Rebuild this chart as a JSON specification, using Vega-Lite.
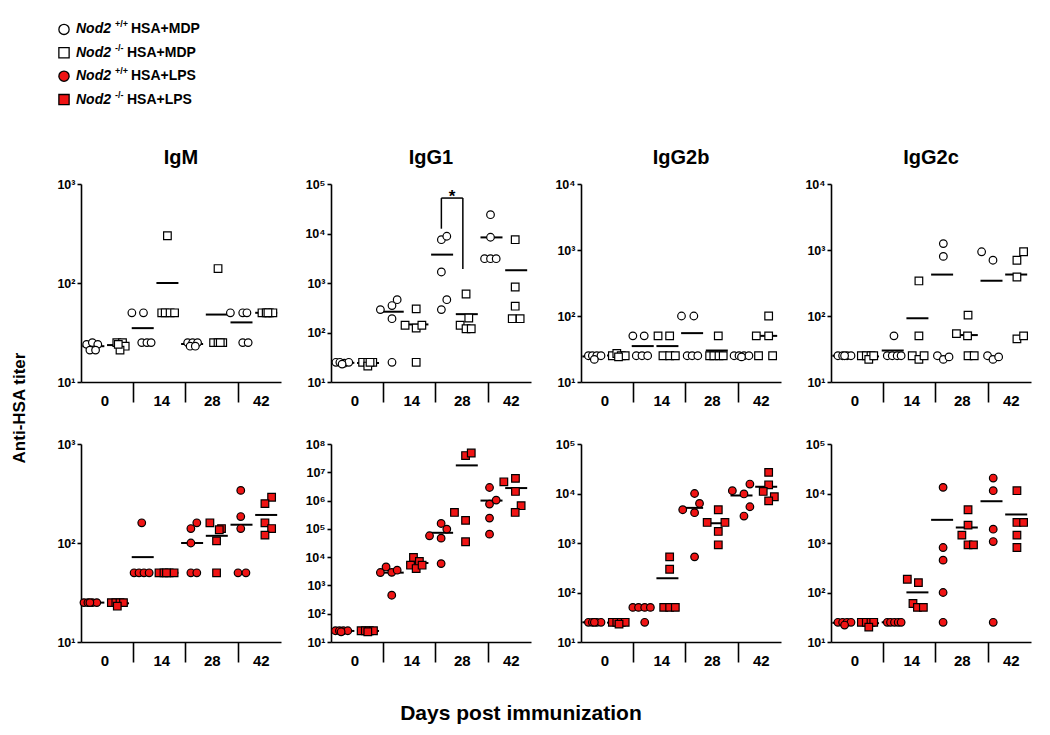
{
"$schema":"https://vega.github.io/schema/vega-lite/v6.json",
"background":"white",
"padding":{"left":10,"top":6,"right":5,"bottom":5},
"config":{
 "view":{"stroke":null},
 "font":"Liberation Sans",
 "axis":{"domainColor":"black","domainWidth":1.6,"tickColor":"black","tickWidth":1.6,"labelColor":"black","labelFont":"Liberation Sans","labelFontWeight":"bold","grid":false},
 "axisX":{"tickSize":20,"labelFontSize":15,"labelPadding":-9,"labelOverlap":false,"labelFlush":false,"labelBound":false},
 "axisY":{"tickSize":4,"labelFontSize":12.5,"labelPadding":2,"labelOverlap":false},
 "title":{"font":"Liberation Sans","fontSize":20,"fontWeight":"bold","color":"black","offset":10}
},
"datasets":{
 "pts":[
{"p":"IgM","r":"MDP","d":0,"g":"+/+","s":0,"x":-0.27,"v":24},{"p":"IgM","r":"MDP","d":0,"g":"+/+","s":0,"x":-0.04,"v":25},{"p":"IgM","r":"MDP","d":0,"g":"+/+","s":0,"x":0.18,"v":24},{"p":"IgM","r":"MDP","d":0,"g":"+/+","s":0,"x":-0.14,"v":21},{"p":"IgM","r":"MDP","d":0,"g":"+/+","s":0,"x":0.09,"v":21},
{"p":"IgM","r":"MDP","d":0,"g":"-/-","s":1,"x":0.95,"v":25},{"p":"IgM","r":"MDP","d":0,"g":"-/-","s":1,"x":1.18,"v":25},{"p":"IgM","r":"MDP","d":0,"g":"-/-","s":1,"x":1.29,"v":23},{"p":"IgM","r":"MDP","d":0,"g":"-/-","s":1,"x":1.08,"v":21},{"p":"IgM","r":"MDP","d":0,"g":"-/-","s":1,"x":1.01,"v":24},
{"p":"IgM","r":"MDP","d":14,"g":"+/+","s":2,"x":1.56,"v":50},{"p":"IgM","r":"MDP","d":14,"g":"+/+","s":2,"x":2.03,"v":50},{"p":"IgM","r":"MDP","d":14,"g":"+/+","s":2,"x":1.96,"v":25},{"p":"IgM","r":"MDP","d":14,"g":"+/+","s":2,"x":2.17,"v":25},{"p":"IgM","r":"MDP","d":14,"g":"+/+","s":2,"x":2.34,"v":25},
{"p":"IgM","r":"MDP","d":14,"g":"-/-","s":3,"x":3.0,"v":300},{"p":"IgM","r":"MDP","d":14,"g":"-/-","s":3,"x":2.77,"v":50},{"p":"IgM","r":"MDP","d":14,"g":"-/-","s":3,"x":2.91,"v":50},{"p":"IgM","r":"MDP","d":14,"g":"-/-","s":3,"x":3.11,"v":50},{"p":"IgM","r":"MDP","d":14,"g":"-/-","s":3,"x":3.29,"v":50},
{"p":"IgM","r":"MDP","d":28,"g":"+/+","s":4,"x":3.82,"v":25},{"p":"IgM","r":"MDP","d":28,"g":"+/+","s":4,"x":4.02,"v":25},{"p":"IgM","r":"MDP","d":28,"g":"+/+","s":4,"x":4.22,"v":25},{"p":"IgM","r":"MDP","d":28,"g":"+/+","s":4,"x":3.92,"v":23},{"p":"IgM","r":"MDP","d":28,"g":"+/+","s":4,"x":4.13,"v":23},
{"p":"IgM","r":"MDP","d":28,"g":"-/-","s":5,"x":5.05,"v":140},{"p":"IgM","r":"MDP","d":28,"g":"-/-","s":5,"x":4.87,"v":25},{"p":"IgM","r":"MDP","d":28,"g":"-/-","s":5,"x":5.05,"v":25},{"p":"IgM","r":"MDP","d":28,"g":"-/-","s":5,"x":5.24,"v":25},{"p":"IgM","r":"MDP","d":28,"g":"-/-","s":5,"x":5.14,"v":25},
{"p":"IgM","r":"MDP","d":42,"g":"+/+","s":6,"x":5.55,"v":50},{"p":"IgM","r":"MDP","d":42,"g":"+/+","s":6,"x":6.05,"v":50},{"p":"IgM","r":"MDP","d":42,"g":"+/+","s":6,"x":6.22,"v":50},{"p":"IgM","r":"MDP","d":42,"g":"+/+","s":6,"x":6.05,"v":25},{"p":"IgM","r":"MDP","d":42,"g":"+/+","s":6,"x":6.27,"v":25},
{"p":"IgM","r":"MDP","d":42,"g":"-/-","s":7,"x":6.83,"v":50},{"p":"IgM","r":"MDP","d":42,"g":"-/-","s":7,"x":7.0,"v":50},{"p":"IgM","r":"MDP","d":42,"g":"-/-","s":7,"x":7.13,"v":50},{"p":"IgM","r":"MDP","d":42,"g":"-/-","s":7,"x":7.27,"v":50},{"p":"IgM","r":"MDP","d":42,"g":"-/-","s":7,"x":7.07,"v":50},

{"p":"IgG1","r":"MDP","d":0,"g":"+/+","s":0,"x":-0.3,"v":25},{"p":"IgG1","r":"MDP","d":0,"g":"+/+","s":0,"x":-0.14,"v":25},{"p":"IgG1","r":"MDP","d":0,"g":"+/+","s":0,"x":0.04,"v":24},{"p":"IgG1","r":"MDP","d":0,"g":"+/+","s":0,"x":0.22,"v":25},{"p":"IgG1","r":"MDP","d":0,"g":"+/+","s":0,"x":-0.05,"v":23},
{"p":"IgG1","r":"MDP","d":0,"g":"-/-","s":1,"x":0.78,"v":25},{"p":"IgG1","r":"MDP","d":0,"g":"-/-","s":1,"x":0.99,"v":25},{"p":"IgG1","r":"MDP","d":0,"g":"-/-","s":1,"x":1.19,"v":25},{"p":"IgG1","r":"MDP","d":0,"g":"-/-","s":1,"x":0.99,"v":21},{"p":"IgG1","r":"MDP","d":0,"g":"-/-","s":1,"x":1.08,"v":25},
{"p":"IgG1","r":"MDP","d":14,"g":"+/+","s":2,"x":1.5,"v":290},{"p":"IgG1","r":"MDP","d":14,"g":"+/+","s":2,"x":1.97,"v":350},{"p":"IgG1","r":"MDP","d":14,"g":"+/+","s":2,"x":2.18,"v":460},{"p":"IgG1","r":"MDP","d":14,"g":"+/+","s":2,"x":1.97,"v":190},{"p":"IgG1","r":"MDP","d":14,"g":"+/+","s":2,"x":1.97,"v":25},
{"p":"IgG1","r":"MDP","d":14,"g":"-/-","s":3,"x":2.95,"v":300},{"p":"IgG1","r":"MDP","d":14,"g":"-/-","s":3,"x":2.5,"v":140},{"p":"IgG1","r":"MDP","d":14,"g":"-/-","s":3,"x":2.95,"v":123},{"p":"IgG1","r":"MDP","d":14,"g":"-/-","s":3,"x":3.18,"v":140},{"p":"IgG1","r":"MDP","d":14,"g":"-/-","s":3,"x":2.95,"v":25},
{"p":"IgG1","r":"MDP","d":28,"g":"+/+","s":4,"x":3.97,"v":7500},{"p":"IgG1","r":"MDP","d":28,"g":"+/+","s":4,"x":4.19,"v":8800},{"p":"IgG1","r":"MDP","d":28,"g":"+/+","s":4,"x":3.97,"v":1670},{"p":"IgG1","r":"MDP","d":28,"g":"+/+","s":4,"x":4.19,"v":460},{"p":"IgG1","r":"MDP","d":28,"g":"+/+","s":4,"x":3.97,"v":290},
{"p":"IgG1","r":"MDP","d":28,"g":"-/-","s":5,"x":4.97,"v":600},{"p":"IgG1","r":"MDP","d":28,"g":"-/-","s":5,"x":5.08,"v":196},{"p":"IgG1","r":"MDP","d":28,"g":"-/-","s":5,"x":4.73,"v":140},{"p":"IgG1","r":"MDP","d":28,"g":"-/-","s":5,"x":4.97,"v":119},{"p":"IgG1","r":"MDP","d":28,"g":"-/-","s":5,"x":5.18,"v":119},
{"p":"IgG1","r":"MDP","d":42,"g":"+/+","s":6,"x":5.96,"v":24000},{"p":"IgG1","r":"MDP","d":42,"g":"+/+","s":6,"x":5.96,"v":8400},{"p":"IgG1","r":"MDP","d":42,"g":"+/+","s":6,"x":5.72,"v":3100},{"p":"IgG1","r":"MDP","d":42,"g":"+/+","s":6,"x":5.96,"v":3100},{"p":"IgG1","r":"MDP","d":42,"g":"+/+","s":6,"x":6.19,"v":3100},
{"p":"IgG1","r":"MDP","d":42,"g":"-/-","s":7,"x":6.96,"v":7500},{"p":"IgG1","r":"MDP","d":42,"g":"-/-","s":7,"x":6.96,"v":830},{"p":"IgG1","r":"MDP","d":42,"g":"-/-","s":7,"x":6.96,"v":340},{"p":"IgG1","r":"MDP","d":42,"g":"-/-","s":7,"x":6.84,"v":190},{"p":"IgG1","r":"MDP","d":42,"g":"-/-","s":7,"x":7.16,"v":190},

{"p":"IgG2b","r":"MDP","d":0,"g":"+/+","s":0,"x":-0.2,"v":25},{"p":"IgG2b","r":"MDP","d":0,"g":"+/+","s":0,"x":-0.04,"v":25},{"p":"IgG2b","r":"MDP","d":0,"g":"+/+","s":0,"x":0.14,"v":25},{"p":"IgG2b","r":"MDP","d":0,"g":"+/+","s":0,"x":0.31,"v":25},{"p":"IgG2b","r":"MDP","d":0,"g":"+/+","s":0,"x":0.04,"v":22},
{"p":"IgG2b","r":"MDP","d":0,"g":"-/-","s":1,"x":0.77,"v":25},{"p":"IgG2b","r":"MDP","d":0,"g":"-/-","s":1,"x":0.95,"v":27},{"p":"IgG2b","r":"MDP","d":0,"g":"-/-","s":1,"x":1.13,"v":25},{"p":"IgG2b","r":"MDP","d":0,"g":"-/-","s":1,"x":1.29,"v":25},{"p":"IgG2b","r":"MDP","d":0,"g":"-/-","s":1,"x":1.02,"v":24},
{"p":"IgG2b","r":"MDP","d":14,"g":"+/+","s":2,"x":1.6,"v":50},{"p":"IgG2b","r":"MDP","d":14,"g":"+/+","s":2,"x":2.06,"v":50},{"p":"IgG2b","r":"MDP","d":14,"g":"+/+","s":2,"x":1.74,"v":25},{"p":"IgG2b","r":"MDP","d":14,"g":"+/+","s":2,"x":1.97,"v":25},{"p":"IgG2b","r":"MDP","d":14,"g":"+/+","s":2,"x":2.2,"v":25},
{"p":"IgG2b","r":"MDP","d":14,"g":"-/-","s":3,"x":2.62,"v":50},{"p":"IgG2b","r":"MDP","d":14,"g":"-/-","s":3,"x":3.09,"v":50},{"p":"IgG2b","r":"MDP","d":14,"g":"-/-","s":3,"x":2.82,"v":25},{"p":"IgG2b","r":"MDP","d":14,"g":"-/-","s":3,"x":3.09,"v":25},{"p":"IgG2b","r":"MDP","d":14,"g":"-/-","s":3,"x":3.32,"v":25},
{"p":"IgG2b","r":"MDP","d":28,"g":"+/+","s":4,"x":3.57,"v":100},{"p":"IgG2b","r":"MDP","d":28,"g":"+/+","s":4,"x":4.07,"v":100},{"p":"IgG2b","r":"MDP","d":28,"g":"+/+","s":4,"x":3.8,"v":25},{"p":"IgG2b","r":"MDP","d":28,"g":"+/+","s":4,"x":4.0,"v":25},{"p":"IgG2b","r":"MDP","d":28,"g":"+/+","s":4,"x":4.23,"v":25},
{"p":"IgG2b","r":"MDP","d":28,"g":"-/-","s":5,"x":5.06,"v":50},{"p":"IgG2b","r":"MDP","d":28,"g":"-/-","s":5,"x":4.71,"v":25},{"p":"IgG2b","r":"MDP","d":28,"g":"-/-","s":5,"x":4.88,"v":25},{"p":"IgG2b","r":"MDP","d":28,"g":"-/-","s":5,"x":5.09,"v":25},{"p":"IgG2b","r":"MDP","d":28,"g":"-/-","s":5,"x":5.26,"v":25},
{"p":"IgG2b","r":"MDP","d":42,"g":"+/+","s":6,"x":5.7,"v":25},{"p":"IgG2b","r":"MDP","d":42,"g":"+/+","s":6,"x":5.9,"v":25},{"p":"IgG2b","r":"MDP","d":42,"g":"+/+","s":6,"x":6.1,"v":25},{"p":"IgG2b","r":"MDP","d":42,"g":"+/+","s":6,"x":6.3,"v":25},{"p":"IgG2b","r":"MDP","d":42,"g":"+/+","s":6,"x":6.0,"v":24},
{"p":"IgG2b","r":"MDP","d":42,"g":"-/-","s":7,"x":7.1,"v":100},{"p":"IgG2b","r":"MDP","d":42,"g":"-/-","s":7,"x":6.6,"v":50},{"p":"IgG2b","r":"MDP","d":42,"g":"-/-","s":7,"x":7.1,"v":50},{"p":"IgG2b","r":"MDP","d":42,"g":"-/-","s":7,"x":6.69,"v":25},{"p":"IgG2b","r":"MDP","d":42,"g":"-/-","s":7,"x":7.26,"v":25},

{"p":"IgG2c","r":"MDP","d":0,"g":"+/+","s":0,"x":-0.22,"v":25},{"p":"IgG2c","r":"MDP","d":0,"g":"+/+","s":0,"x":-0.03,"v":25},{"p":"IgG2c","r":"MDP","d":0,"g":"+/+","s":0,"x":0.15,"v":25},{"p":"IgG2c","r":"MDP","d":0,"g":"+/+","s":0,"x":0.31,"v":25},{"p":"IgG2c","r":"MDP","d":0,"g":"+/+","s":0,"x":0.05,"v":25},
{"p":"IgG2c","r":"MDP","d":0,"g":"-/-","s":1,"x":0.73,"v":25},{"p":"IgG2c","r":"MDP","d":0,"g":"-/-","s":1,"x":0.93,"v":25},{"p":"IgG2c","r":"MDP","d":0,"g":"-/-","s":1,"x":1.12,"v":25},{"p":"IgG2c","r":"MDP","d":0,"g":"-/-","s":1,"x":1.03,"v":22},{"p":"IgG2c","r":"MDP","d":0,"g":"-/-","s":1,"x":1.23,"v":25},
{"p":"IgG2c","r":"MDP","d":14,"g":"+/+","s":2,"x":2.05,"v":50},{"p":"IgG2c","r":"MDP","d":14,"g":"+/+","s":2,"x":1.78,"v":25},{"p":"IgG2c","r":"MDP","d":14,"g":"+/+","s":2,"x":1.98,"v":25},{"p":"IgG2c","r":"MDP","d":14,"g":"+/+","s":2,"x":2.18,"v":25},{"p":"IgG2c","r":"MDP","d":14,"g":"+/+","s":2,"x":2.34,"v":25},
{"p":"IgG2c","r":"MDP","d":14,"g":"-/-","s":3,"x":3.06,"v":340},{"p":"IgG2c","r":"MDP","d":14,"g":"-/-","s":3,"x":3.06,"v":50},{"p":"IgG2c","r":"MDP","d":14,"g":"-/-","s":3,"x":2.79,"v":25},{"p":"IgG2c","r":"MDP","d":14,"g":"-/-","s":3,"x":3.06,"v":22},{"p":"IgG2c","r":"MDP","d":14,"g":"-/-","s":3,"x":3.27,"v":25},
{"p":"IgG2c","r":"MDP","d":28,"g":"+/+","s":4,"x":4.05,"v":1250},{"p":"IgG2c","r":"MDP","d":28,"g":"+/+","s":4,"x":4.05,"v":800},{"p":"IgG2c","r":"MDP","d":28,"g":"+/+","s":4,"x":3.81,"v":25},{"p":"IgG2c","r":"MDP","d":28,"g":"+/+","s":4,"x":4.05,"v":22},{"p":"IgG2c","r":"MDP","d":28,"g":"+/+","s":4,"x":4.28,"v":24},
{"p":"IgG2c","r":"MDP","d":28,"g":"-/-","s":5,"x":5.05,"v":103},{"p":"IgG2c","r":"MDP","d":28,"g":"-/-","s":5,"x":4.58,"v":54},{"p":"IgG2c","r":"MDP","d":28,"g":"-/-","s":5,"x":5.03,"v":50},{"p":"IgG2c","r":"MDP","d":28,"g":"-/-","s":5,"x":5.05,"v":25},{"p":"IgG2c","r":"MDP","d":28,"g":"-/-","s":5,"x":5.3,"v":25},
{"p":"IgG2c","r":"MDP","d":42,"g":"+/+","s":6,"x":5.6,"v":940},{"p":"IgG2c","r":"MDP","d":42,"g":"+/+","s":6,"x":6.06,"v":700},{"p":"IgG2c","r":"MDP","d":42,"g":"+/+","s":6,"x":5.84,"v":25},{"p":"IgG2c","r":"MDP","d":42,"g":"+/+","s":6,"x":6.06,"v":22},{"p":"IgG2c","r":"MDP","d":42,"g":"+/+","s":6,"x":6.29,"v":24},
{"p":"IgG2c","r":"MDP","d":42,"g":"-/-","s":7,"x":7.3,"v":940},{"p":"IgG2c","r":"MDP","d":42,"g":"-/-","s":7,"x":7.03,"v":700},{"p":"IgG2c","r":"MDP","d":42,"g":"-/-","s":7,"x":7.03,"v":390},{"p":"IgG2c","r":"MDP","d":42,"g":"-/-","s":7,"x":7.03,"v":45},{"p":"IgG2c","r":"MDP","d":42,"g":"-/-","s":7,"x":7.3,"v":50},

{"p":"IgM","r":"LPS","d":0,"g":"+/+","s":0,"x":-0.38,"v":25},{"p":"IgM","r":"LPS","d":0,"g":"+/+","s":0,"x":-0.22,"v":25},{"p":"IgM","r":"LPS","d":0,"g":"+/+","s":0,"x":-0.04,"v":25},{"p":"IgM","r":"LPS","d":0,"g":"+/+","s":0,"x":0.14,"v":25},{"p":"IgM","r":"LPS","d":0,"g":"+/+","s":0,"x":-0.14,"v":25},
{"p":"IgM","r":"LPS","d":0,"g":"-/-","s":1,"x":0.73,"v":25},{"p":"IgM","r":"LPS","d":0,"g":"-/-","s":1,"x":0.91,"v":25},{"p":"IgM","r":"LPS","d":0,"g":"-/-","s":1,"x":1.08,"v":25},{"p":"IgM","r":"LPS","d":0,"g":"-/-","s":1,"x":1.22,"v":25},{"p":"IgM","r":"LPS","d":0,"g":"-/-","s":1,"x":0.97,"v":23},
{"p":"IgM","r":"LPS","d":14,"g":"+/+","s":2,"x":1.96,"v":160},{"p":"IgM","r":"LPS","d":14,"g":"+/+","s":2,"x":1.65,"v":50},{"p":"IgM","r":"LPS","d":14,"g":"+/+","s":2,"x":1.85,"v":50},{"p":"IgM","r":"LPS","d":14,"g":"+/+","s":2,"x":2.05,"v":50},{"p":"IgM","r":"LPS","d":14,"g":"+/+","s":2,"x":2.26,"v":50},
{"p":"IgM","r":"LPS","d":14,"g":"-/-","s":3,"x":2.66,"v":50},{"p":"IgM","r":"LPS","d":14,"g":"-/-","s":3,"x":2.86,"v":50},{"p":"IgM","r":"LPS","d":14,"g":"-/-","s":3,"x":3.07,"v":50},{"p":"IgM","r":"LPS","d":14,"g":"-/-","s":3,"x":3.27,"v":50},{"p":"IgM","r":"LPS","d":14,"g":"-/-","s":3,"x":2.96,"v":50},
{"p":"IgM","r":"LPS","d":28,"g":"+/+","s":4,"x":4.19,"v":160},{"p":"IgM","r":"LPS","d":28,"g":"+/+","s":4,"x":3.95,"v":140},{"p":"IgM","r":"LPS","d":28,"g":"+/+","s":4,"x":3.95,"v":100},{"p":"IgM","r":"LPS","d":28,"g":"+/+","s":4,"x":3.95,"v":50},{"p":"IgM","r":"LPS","d":28,"g":"+/+","s":4,"x":4.19,"v":50},
{"p":"IgM","r":"LPS","d":28,"g":"-/-","s":5,"x":4.72,"v":160},{"p":"IgM","r":"LPS","d":28,"g":"-/-","s":5,"x":5.19,"v":140},{"p":"IgM","r":"LPS","d":28,"g":"-/-","s":5,"x":4.99,"v":105},{"p":"IgM","r":"LPS","d":28,"g":"-/-","s":5,"x":4.99,"v":50},{"p":"IgM","r":"LPS","d":28,"g":"-/-","s":5,"x":5.1,"v":136},
{"p":"IgM","r":"LPS","d":42,"g":"+/+","s":6,"x":5.97,"v":340},{"p":"IgM","r":"LPS","d":42,"g":"+/+","s":6,"x":5.97,"v":185},{"p":"IgM","r":"LPS","d":42,"g":"+/+","s":6,"x":5.97,"v":140},{"p":"IgM","r":"LPS","d":42,"g":"+/+","s":6,"x":5.86,"v":50},{"p":"IgM","r":"LPS","d":42,"g":"+/+","s":6,"x":6.18,"v":50},
{"p":"IgM","r":"LPS","d":42,"g":"-/-","s":7,"x":7.22,"v":290},{"p":"IgM","r":"LPS","d":42,"g":"-/-","s":7,"x":6.95,"v":250},{"p":"IgM","r":"LPS","d":42,"g":"-/-","s":7,"x":6.95,"v":160},{"p":"IgM","r":"LPS","d":42,"g":"-/-","s":7,"x":7.22,"v":140},{"p":"IgM","r":"LPS","d":42,"g":"-/-","s":7,"x":6.95,"v":120},

{"p":"IgG1","r":"LPS","d":0,"g":"+/+","s":0,"x":-0.32,"v":25},{"p":"IgG1","r":"LPS","d":0,"g":"+/+","s":0,"x":-0.16,"v":25},{"p":"IgG1","r":"LPS","d":0,"g":"+/+","s":0,"x":0.0,"v":25},{"p":"IgG1","r":"LPS","d":0,"g":"+/+","s":0,"x":0.18,"v":25},{"p":"IgG1","r":"LPS","d":0,"g":"+/+","s":0,"x":-0.09,"v":23},
{"p":"IgG1","r":"LPS","d":0,"g":"-/-","s":1,"x":0.72,"v":25},{"p":"IgG1","r":"LPS","d":0,"g":"-/-","s":1,"x":0.89,"v":25},{"p":"IgG1","r":"LPS","d":0,"g":"-/-","s":1,"x":1.05,"v":25},{"p":"IgG1","r":"LPS","d":0,"g":"-/-","s":1,"x":1.22,"v":25},{"p":"IgG1","r":"LPS","d":0,"g":"-/-","s":1,"x":0.99,"v":23},
{"p":"IgG1","r":"LPS","d":14,"g":"+/+","s":2,"x":1.5,"v":2860},{"p":"IgG1","r":"LPS","d":14,"g":"+/+","s":2,"x":1.73,"v":4500},{"p":"IgG1","r":"LPS","d":14,"g":"+/+","s":2,"x":1.96,"v":2900},{"p":"IgG1","r":"LPS","d":14,"g":"+/+","s":2,"x":2.18,"v":3450},{"p":"IgG1","r":"LPS","d":14,"g":"+/+","s":2,"x":1.96,"v":450},
{"p":"IgG1","r":"LPS","d":14,"g":"-/-","s":3,"x":2.84,"v":9700},{"p":"IgG1","r":"LPS","d":14,"g":"-/-","s":3,"x":2.72,"v":5200},{"p":"IgG1","r":"LPS","d":14,"g":"-/-","s":3,"x":3.08,"v":7000},{"p":"IgG1","r":"LPS","d":14,"g":"-/-","s":3,"x":2.95,"v":3950},{"p":"IgG1","r":"LPS","d":14,"g":"-/-","s":3,"x":3.19,"v":5200},
{"p":"IgG1","r":"LPS","d":28,"g":"+/+","s":4,"x":3.96,"v":155000},{"p":"IgG1","r":"LPS","d":28,"g":"+/+","s":4,"x":4.19,"v":98000},{"p":"IgG1","r":"LPS","d":28,"g":"+/+","s":4,"x":3.49,"v":57000},{"p":"IgG1","r":"LPS","d":28,"g":"+/+","s":4,"x":3.96,"v":47000},{"p":"IgG1","r":"LPS","d":28,"g":"+/+","s":4,"x":3.96,"v":5900},
{"p":"IgG1","r":"LPS","d":28,"g":"-/-","s":5,"x":4.95,"v":39000000},{"p":"IgG1","r":"LPS","d":28,"g":"-/-","s":5,"x":5.18,"v":48000000},{"p":"IgG1","r":"LPS","d":28,"g":"-/-","s":5,"x":4.5,"v":380000},{"p":"IgG1","r":"LPS","d":28,"g":"-/-","s":5,"x":4.95,"v":200000},{"p":"IgG1","r":"LPS","d":28,"g":"-/-","s":5,"x":4.95,"v":35000},
{"p":"IgG1","r":"LPS","d":42,"g":"+/+","s":6,"x":5.92,"v":2900000},{"p":"IgG1","r":"LPS","d":42,"g":"+/+","s":6,"x":5.92,"v":750000},{"p":"IgG1","r":"LPS","d":42,"g":"+/+","s":6,"x":6.19,"v":1040000},{"p":"IgG1","r":"LPS","d":42,"g":"+/+","s":6,"x":5.92,"v":240000},{"p":"IgG1","r":"LPS","d":42,"g":"+/+","s":6,"x":5.92,"v":65000},
{"p":"IgG1","r":"LPS","d":42,"g":"-/-","s":7,"x":6.5,"v":4600000},{"p":"IgG1","r":"LPS","d":42,"g":"-/-","s":7,"x":6.97,"v":6100000},{"p":"IgG1","r":"LPS","d":42,"g":"-/-","s":7,"x":6.97,"v":2100000},{"p":"IgG1","r":"LPS","d":42,"g":"-/-","s":7,"x":7.2,"v":660000},{"p":"IgG1","r":"LPS","d":42,"g":"-/-","s":7,"x":6.96,"v":380000},

{"p":"IgG2b","r":"LPS","d":0,"g":"+/+","s":0,"x":-0.2,"v":25},{"p":"IgG2b","r":"LPS","d":0,"g":"+/+","s":0,"x":-0.04,"v":25},{"p":"IgG2b","r":"LPS","d":0,"g":"+/+","s":0,"x":0.14,"v":25},{"p":"IgG2b","r":"LPS","d":0,"g":"+/+","s":0,"x":0.31,"v":25},{"p":"IgG2b","r":"LPS","d":0,"g":"+/+","s":0,"x":0.04,"v":25},
{"p":"IgG2b","r":"LPS","d":0,"g":"-/-","s":1,"x":0.77,"v":25},{"p":"IgG2b","r":"LPS","d":0,"g":"-/-","s":1,"x":0.95,"v":25},{"p":"IgG2b","r":"LPS","d":0,"g":"-/-","s":1,"x":1.13,"v":25},{"p":"IgG2b","r":"LPS","d":0,"g":"-/-","s":1,"x":1.29,"v":25},{"p":"IgG2b","r":"LPS","d":0,"g":"-/-","s":1,"x":1.04,"v":23},
{"p":"IgG2b","r":"LPS","d":14,"g":"+/+","s":2,"x":1.6,"v":50},{"p":"IgG2b","r":"LPS","d":14,"g":"+/+","s":2,"x":1.83,"v":50},{"p":"IgG2b","r":"LPS","d":14,"g":"+/+","s":2,"x":2.08,"v":50},{"p":"IgG2b","r":"LPS","d":14,"g":"+/+","s":2,"x":2.31,"v":50},{"p":"IgG2b","r":"LPS","d":14,"g":"+/+","s":2,"x":2.08,"v":25},
{"p":"IgG2b","r":"LPS","d":14,"g":"-/-","s":3,"x":3.09,"v":525},{"p":"IgG2b","r":"LPS","d":14,"g":"-/-","s":3,"x":3.09,"v":295},{"p":"IgG2b","r":"LPS","d":14,"g":"-/-","s":3,"x":2.85,"v":50},{"p":"IgG2b","r":"LPS","d":14,"g":"-/-","s":3,"x":3.09,"v":50},{"p":"IgG2b","r":"LPS","d":14,"g":"-/-","s":3,"x":3.32,"v":50},
{"p":"IgG2b","r":"LPS","d":28,"g":"+/+","s":4,"x":4.1,"v":10000},{"p":"IgG2b","r":"LPS","d":28,"g":"+/+","s":4,"x":4.3,"v":6300},{"p":"IgG2b","r":"LPS","d":28,"g":"+/+","s":4,"x":3.62,"v":4700},{"p":"IgG2b","r":"LPS","d":28,"g":"+/+","s":4,"x":4.1,"v":4100},{"p":"IgG2b","r":"LPS","d":28,"g":"+/+","s":4,"x":4.1,"v":525},
{"p":"IgG2b","r":"LPS","d":28,"g":"-/-","s":5,"x":5.06,"v":4700},{"p":"IgG2b","r":"LPS","d":28,"g":"-/-","s":5,"x":4.61,"v":2600},{"p":"IgG2b","r":"LPS","d":28,"g":"-/-","s":5,"x":5.33,"v":2600},{"p":"IgG2b","r":"LPS","d":28,"g":"-/-","s":5,"x":5.06,"v":1710},{"p":"IgG2b","r":"LPS","d":28,"g":"-/-","s":5,"x":5.06,"v":920},
{"p":"IgG2b","r":"LPS","d":42,"g":"+/+","s":6,"x":5.63,"v":11400},{"p":"IgG2b","r":"LPS","d":42,"g":"+/+","s":6,"x":6.1,"v":9800},{"p":"IgG2b","r":"LPS","d":42,"g":"+/+","s":6,"x":6.34,"v":15500},{"p":"IgG2b","r":"LPS","d":42,"g":"+/+","s":6,"x":6.34,"v":5400},{"p":"IgG2b","r":"LPS","d":42,"g":"+/+","s":6,"x":6.1,"v":3500},
{"p":"IgG2b","r":"LPS","d":42,"g":"-/-","s":7,"x":7.1,"v":26700},{"p":"IgG2b","r":"LPS","d":42,"g":"-/-","s":7,"x":7.1,"v":15000},{"p":"IgG2b","r":"LPS","d":42,"g":"-/-","s":7,"x":6.88,"v":11000},{"p":"IgG2b","r":"LPS","d":42,"g":"-/-","s":7,"x":7.33,"v":8600},{"p":"IgG2b","r":"LPS","d":42,"g":"-/-","s":7,"x":7.1,"v":7100},

{"p":"IgG2c","r":"LPS","d":0,"g":"+/+","s":0,"x":-0.22,"v":25},{"p":"IgG2c","r":"LPS","d":0,"g":"+/+","s":0,"x":-0.03,"v":25},{"p":"IgG2c","r":"LPS","d":0,"g":"+/+","s":0,"x":0.15,"v":25},{"p":"IgG2c","r":"LPS","d":0,"g":"+/+","s":0,"x":0.31,"v":25},{"p":"IgG2c","r":"LPS","d":0,"g":"+/+","s":0,"x":0.05,"v":22},
{"p":"IgG2c","r":"LPS","d":0,"g":"-/-","s":1,"x":0.73,"v":25},{"p":"IgG2c","r":"LPS","d":0,"g":"-/-","s":1,"x":0.93,"v":25},{"p":"IgG2c","r":"LPS","d":0,"g":"-/-","s":1,"x":1.12,"v":25},{"p":"IgG2c","r":"LPS","d":0,"g":"-/-","s":1,"x":1.23,"v":25},{"p":"IgG2c","r":"LPS","d":0,"g":"-/-","s":1,"x":1.03,"v":20},
{"p":"IgG2c","r":"LPS","d":14,"g":"+/+","s":2,"x":1.78,"v":25},{"p":"IgG2c","r":"LPS","d":14,"g":"+/+","s":2,"x":1.91,"v":25},{"p":"IgG2c","r":"LPS","d":14,"g":"+/+","s":2,"x":2.07,"v":25},{"p":"IgG2c","r":"LPS","d":14,"g":"+/+","s":2,"x":2.22,"v":25},{"p":"IgG2c","r":"LPS","d":14,"g":"+/+","s":2,"x":2.34,"v":25},
{"p":"IgG2c","r":"LPS","d":14,"g":"-/-","s":3,"x":2.59,"v":185},{"p":"IgG2c","r":"LPS","d":14,"g":"-/-","s":3,"x":3.04,"v":158},{"p":"IgG2c","r":"LPS","d":14,"g":"-/-","s":3,"x":2.82,"v":60},{"p":"IgG2c","r":"LPS","d":14,"g":"-/-","s":3,"x":3.0,"v":50},{"p":"IgG2c","r":"LPS","d":14,"g":"-/-","s":3,"x":3.24,"v":50},
{"p":"IgG2c","r":"LPS","d":28,"g":"+/+","s":4,"x":4.04,"v":13300},{"p":"IgG2c","r":"LPS","d":28,"g":"+/+","s":4,"x":4.04,"v":810},{"p":"IgG2c","r":"LPS","d":28,"g":"+/+","s":4,"x":4.04,"v":450},{"p":"IgG2c","r":"LPS","d":28,"g":"+/+","s":4,"x":4.04,"v":100},{"p":"IgG2c","r":"LPS","d":28,"g":"+/+","s":4,"x":4.04,"v":25},
{"p":"IgG2c","r":"LPS","d":28,"g":"-/-","s":5,"x":5.05,"v":4700},{"p":"IgG2c","r":"LPS","d":28,"g":"-/-","s":5,"x":5.05,"v":2300},{"p":"IgG2c","r":"LPS","d":28,"g":"-/-","s":5,"x":4.8,"v":1440},{"p":"IgG2c","r":"LPS","d":28,"g":"-/-","s":5,"x":5.05,"v":920},{"p":"IgG2c","r":"LPS","d":28,"g":"-/-","s":5,"x":5.27,"v":920},
{"p":"IgG2c","r":"LPS","d":42,"g":"+/+","s":6,"x":6.07,"v":20500},{"p":"IgG2c","r":"LPS","d":42,"g":"+/+","s":6,"x":6.07,"v":11400},{"p":"IgG2c","r":"LPS","d":42,"g":"+/+","s":6,"x":6.07,"v":1900},{"p":"IgG2c","r":"LPS","d":42,"g":"+/+","s":6,"x":6.07,"v":1070},{"p":"IgG2c","r":"LPS","d":42,"g":"+/+","s":6,"x":6.07,"v":25},
{"p":"IgG2c","r":"LPS","d":42,"g":"-/-","s":7,"x":7.03,"v":11400},{"p":"IgG2c","r":"LPS","d":42,"g":"-/-","s":7,"x":7.03,"v":2600},{"p":"IgG2c","r":"LPS","d":42,"g":"-/-","s":7,"x":7.3,"v":2600},{"p":"IgG2c","r":"LPS","d":42,"g":"-/-","s":7,"x":7.03,"v":1440},{"p":"IgG2c","r":"LPS","d":42,"g":"-/-","s":7,"x":7.03,"v":810}
 ],
 "sig":[
  {"p":"IgG1","r":"MDP","x":3.97,"x2":4.84,"v":52000,"v2":52000},
  {"p":"IgG1","r":"MDP","x":3.97,"x2":3.97,"v":12500,"v2":52000},
  {"p":"IgG1","r":"MDP","x":4.84,"x2":4.84,"v":1920,"v2":52000}
 ],
 "star":[{"p":"IgG1","r":"MDP","x":4.4,"v":52000,"t":"*"}]
},
"title":{"text":"Days post immunization","orient":"bottom","fontSize":21,"fontWeight":"bold","font":"Liberation Sans","anchor":"middle","offset":35},
"spacing":25,
"vconcat":[
 {
  "width":2,"height":117,
  "data":{"values":[
   {"k":1,"g":"+/+","r":"MDP","gene":"Nod2","sup":"+/+","lab":"HSA+MDP"},
   {"k":2,"g":"-/-","r":"MDP","gene":"Nod2","sup":"-/-","lab":"HSA+MDP"},
   {"k":3,"g":"+/+","r":"LPS","gene":"Nod2","sup":"+/+","lab":"HSA+LPS"},
   {"k":4,"g":"-/-","r":"LPS","gene":"Nod2","sup":"-/-","lab":"HSA+LPS"}
  ]},
  "encoding":{"y":{"field":"k","type":"ordinal","axis":null,"scale":{"padding":1.0}}},
  "layer":[
   {"mark":{"type":"point","filled":true,"stroke":"black","strokeWidth":1.3,"size":105,"opacity":1,"xOffset":-18},
    "encoding":{"shape":{"field":"g","type":"nominal","scale":{"domain":["+/+","-/-"],"range":["circle","square"]},"legend":null},
                "fill":{"field":"r","type":"nominal","scale":{"domain":["MDP","LPS"],"range":["white","#f01414"]},"legend":null}}},
   {"mark":{"type":"text","align":"left","baseline":"middle","dx":-6,"font":"Liberation Sans","fontSize":14,"fontWeight":"bold","fontStyle":"italic","color":"black"},
    "encoding":{"text":{"field":"gene"}}},
   {"mark":{"type":"text","align":"left","baseline":"middle","dx":33,"dy":-5,"font":"Liberation Sans","fontSize":9,"fontWeight":"bold","color":"black"},
    "encoding":{"text":{"field":"sup"}}},
   {"transform":[{"filter":"datum.sup=='+/+'"}],
    "mark":{"type":"text","align":"left","baseline":"middle","dx":49,"font":"Liberation Sans","fontSize":14,"fontWeight":"bold","color":"black"},
    "encoding":{"text":{"field":"lab"}}},
   {"transform":[{"filter":"datum.sup=='-/-'"}],
    "mark":{"type":"text","align":"left","baseline":"middle","dx":45,"font":"Liberation Sans","fontSize":14,"fontWeight":"bold","color":"black"},
    "encoding":{"text":{"field":"lab"}}}
  ]
 },
 {
  "title":{"text":"Anti-HSA titer","orient":"left","fontSize":17,"fontWeight":"bold","font":"Liberation Sans","anchor":"middle","offset":28},
  "data":{"name":"pts"},
  "spacing":30,
  "vconcat":[
   {"spacing":23,"hconcat":[
    {"width":200,"height":198,"title":"IgM",
     "transform":[{"filter":"datum.p=='IgM'&&datum.r=='MDP'"}],
     "encoding":{"y":{"field":"v","type":"quantitative","scale":{"type":"log","domain":[10,1000],"nice":false},"axis":{"values":[10,100,1000],"labelExpr":"'10' + ['⁰','¹','²','³','⁴','⁵','⁶','⁷','⁸'][round(log(datum.value)/LN10)]","title":null}}},
     "layer":[
      {"transform":[{"aggregate":[{"op":"mean","field":"v","as":"v"}],"groupby":["s"]}],
       "mark":{"type":"tick","orient":"horizontal","color":"black","thickness":2,"size":22,"opacity":1},
       "encoding":{"x":{"field":"s","type":"quantitative","scale":{"domain":[-0.5,7.6],"nice":false,"zero":false},"axis":{"values":[0.45,1.6,2.75,3.7,4.8,5.85,6.78],"labelExpr":"datum.value==0.45?'0':datum.value==2.75?'14':datum.value==4.8?'28':datum.value==6.78?'42':''","tickOpacity":{"condition":{"test":"datum.value==1.6||datum.value==3.7||datum.value==5.85","value":1},"value":0},"title":null}}}},
      {"mark":{"type":"point","filled":true,"stroke":"black","strokeWidth":1.2,"size":58,"opacity":1},
       "encoding":{"x":{"field":"x","type":"quantitative","scale":{"domain":[-0.5,7.6],"nice":false,"zero":false},"axis":{"values":[0.45,1.6,2.75,3.7,4.8,5.85,6.78],"labelExpr":"datum.value==0.45?'0':datum.value==2.75?'14':datum.value==4.8?'28':datum.value==6.78?'42':''","tickOpacity":{"condition":{"test":"datum.value==1.6||datum.value==3.7||datum.value==5.85","value":1},"value":0},"title":null}},
        "shape":{"field":"g","type":"nominal","scale":{"domain":["+/+","-/-"],"range":["circle","square"]},"legend":null},
        "fill":{"field":"r","type":"nominal","scale":{"domain":["MDP","LPS"],"range":["white","#f01414"]},"legend":null}}}
     ]},
    {"width":200,"height":198,"title":"IgG1",
     "transform":[{"filter":"datum.p=='IgG1'&&datum.r=='MDP'"}],
     "encoding":{"y":{"field":"v","type":"quantitative","scale":{"type":"log","domain":[10,100000],"nice":false},"axis":{"values":[10,100,1000,10000,100000],"labelExpr":"'10' + ['⁰','¹','²','³','⁴','⁵','⁶','⁷','⁸'][round(log(datum.value)/LN10)]","title":null}}},
     "layer":[
      {"transform":[{"aggregate":[{"op":"mean","field":"v","as":"v"}],"groupby":["s"]}],
       "mark":{"type":"tick","orient":"horizontal","color":"black","thickness":2,"size":22,"opacity":1},
       "encoding":{"x":{"field":"s","type":"quantitative","scale":{"domain":[-0.5,7.6],"nice":false,"zero":false},"axis":{"values":[0.45,1.6,2.75,3.7,4.8,5.85,6.78],"labelExpr":"datum.value==0.45?'0':datum.value==2.75?'14':datum.value==4.8?'28':datum.value==6.78?'42':''","tickOpacity":{"condition":{"test":"datum.value==1.6||datum.value==3.7||datum.value==5.85","value":1},"value":0},"title":null}}}},
      {"data":{"name":"sig"},
       "mark":{"type":"rule","color":"black","strokeWidth":1.5},
       "encoding":{"x":{"field":"x","type":"quantitative","scale":{"domain":[-0.5,7.6],"nice":false,"zero":false},"axis":{"values":[0.45,1.6,2.75,3.7,4.8,5.85,6.78],"labelExpr":"datum.value==0.45?'0':datum.value==2.75?'14':datum.value==4.8?'28':datum.value==6.78?'42':''","tickOpacity":{"condition":{"test":"datum.value==1.6||datum.value==3.7||datum.value==5.85","value":1},"value":0},"title":null}},"x2":{"field":"x2"},"y2":{"field":"v2"}}},
      {"data":{"name":"star"},
       "mark":{"type":"text","color":"black","font":"Liberation Sans","fontSize":17,"fontWeight":"bold","baseline":"alphabetic","dy":4},
       "encoding":{"x":{"field":"x","type":"quantitative","scale":{"domain":[-0.5,7.6],"nice":false,"zero":false},"axis":{"values":[0.45,1.6,2.75,3.7,4.8,5.85,6.78],"labelExpr":"datum.value==0.45?'0':datum.value==2.75?'14':datum.value==4.8?'28':datum.value==6.78?'42':''","tickOpacity":{"condition":{"test":"datum.value==1.6||datum.value==3.7||datum.value==5.85","value":1},"value":0},"title":null}},"text":{"field":"t"}}},
      {"mark":{"type":"point","filled":true,"stroke":"black","strokeWidth":1.2,"size":58,"opacity":1},
       "encoding":{"x":{"field":"x","type":"quantitative","scale":{"domain":[-0.5,7.6],"nice":false,"zero":false},"axis":{"values":[0.45,1.6,2.75,3.7,4.8,5.85,6.78],"labelExpr":"datum.value==0.45?'0':datum.value==2.75?'14':datum.value==4.8?'28':datum.value==6.78?'42':''","tickOpacity":{"condition":{"test":"datum.value==1.6||datum.value==3.7||datum.value==5.85","value":1},"value":0},"title":null}},
        "shape":{"field":"g","type":"nominal","scale":{"domain":["+/+","-/-"],"range":["circle","square"]},"legend":null},
        "fill":{"field":"r","type":"nominal","scale":{"domain":["MDP","LPS"],"range":["white","#f01414"]},"legend":null}}}
     ]},
    {"width":200,"height":198,"title":"IgG2b",
     "transform":[{"filter":"datum.p=='IgG2b'&&datum.r=='MDP'"}],
     "encoding":{"y":{"field":"v","type":"quantitative","scale":{"type":"log","domain":[10,10000],"nice":false},"axis":{"values":[10,100,1000,10000],"labelExpr":"'10' + ['⁰','¹','²','³','⁴','⁵','⁶','⁷','⁸'][round(log(datum.value)/LN10)]","title":null}}},
     "layer":[
      {"transform":[{"aggregate":[{"op":"mean","field":"v","as":"v"}],"groupby":["s"]}],
       "mark":{"type":"tick","orient":"horizontal","color":"black","thickness":2,"size":22,"opacity":1},
       "encoding":{"x":{"field":"s","type":"quantitative","scale":{"domain":[-0.5,7.6],"nice":false,"zero":false},"axis":{"values":[0.45,1.6,2.75,3.7,4.8,5.85,6.78],"labelExpr":"datum.value==0.45?'0':datum.value==2.75?'14':datum.value==4.8?'28':datum.value==6.78?'42':''","tickOpacity":{"condition":{"test":"datum.value==1.6||datum.value==3.7||datum.value==5.85","value":1},"value":0},"title":null}}}},
      {"mark":{"type":"point","filled":true,"stroke":"black","strokeWidth":1.2,"size":58,"opacity":1},
       "encoding":{"x":{"field":"x","type":"quantitative","scale":{"domain":[-0.5,7.6],"nice":false,"zero":false},"axis":{"values":[0.45,1.6,2.75,3.7,4.8,5.85,6.78],"labelExpr":"datum.value==0.45?'0':datum.value==2.75?'14':datum.value==4.8?'28':datum.value==6.78?'42':''","tickOpacity":{"condition":{"test":"datum.value==1.6||datum.value==3.7||datum.value==5.85","value":1},"value":0},"title":null}},
        "shape":{"field":"g","type":"nominal","scale":{"domain":["+/+","-/-"],"range":["circle","square"]},"legend":null},
        "fill":{"field":"r","type":"nominal","scale":{"domain":["MDP","LPS"],"range":["white","#f01414"]},"legend":null}}}
     ]},
    {"width":200,"height":198,"title":"IgG2c",
     "transform":[{"filter":"datum.p=='IgG2c'&&datum.r=='MDP'"}],
     "encoding":{"y":{"field":"v","type":"quantitative","scale":{"type":"log","domain":[10,10000],"nice":false},"axis":{"values":[10,100,1000,10000],"labelExpr":"'10' + ['⁰','¹','²','³','⁴','⁵','⁶','⁷','⁸'][round(log(datum.value)/LN10)]","title":null}}},
     "layer":[
      {"transform":[{"aggregate":[{"op":"mean","field":"v","as":"v"}],"groupby":["s"]}],
       "mark":{"type":"tick","orient":"horizontal","color":"black","thickness":2,"size":22,"opacity":1},
       "encoding":{"x":{"field":"s","type":"quantitative","scale":{"domain":[-0.5,7.6],"nice":false,"zero":false},"axis":{"values":[0.45,1.6,2.75,3.7,4.8,5.85,6.78],"labelExpr":"datum.value==0.45?'0':datum.value==2.75?'14':datum.value==4.8?'28':datum.value==6.78?'42':''","tickOpacity":{"condition":{"test":"datum.value==1.6||datum.value==3.7||datum.value==5.85","value":1},"value":0},"title":null}}}},
      {"mark":{"type":"point","filled":true,"stroke":"black","strokeWidth":1.2,"size":58,"opacity":1},
       "encoding":{"x":{"field":"x","type":"quantitative","scale":{"domain":[-0.5,7.6],"nice":false,"zero":false},"axis":{"values":[0.45,1.6,2.75,3.7,4.8,5.85,6.78],"labelExpr":"datum.value==0.45?'0':datum.value==2.75?'14':datum.value==4.8?'28':datum.value==6.78?'42':''","tickOpacity":{"condition":{"test":"datum.value==1.6||datum.value==3.7||datum.value==5.85","value":1},"value":0},"title":null}},
        "shape":{"field":"g","type":"nominal","scale":{"domain":["+/+","-/-"],"range":["circle","square"]},"legend":null},
        "fill":{"field":"r","type":"nominal","scale":{"domain":["MDP","LPS"],"range":["white","#f01414"]},"legend":null}}}
     ]}
   ]},
   {"spacing":23,"hconcat":[
    {"width":200,"height":198,
     "transform":[{"filter":"datum.p=='IgM'&&datum.r=='LPS'"}],
     "encoding":{"y":{"field":"v","type":"quantitative","scale":{"type":"log","domain":[10,1000],"nice":false},"axis":{"values":[10,100,1000],"labelExpr":"'10' + ['⁰','¹','²','³','⁴','⁵','⁶','⁷','⁸'][round(log(datum.value)/LN10)]","title":null}}},
     "layer":[
      {"transform":[{"aggregate":[{"op":"mean","field":"v","as":"v"}],"groupby":["s"]}],
       "mark":{"type":"tick","orient":"horizontal","color":"black","thickness":2,"size":22,"opacity":1},
       "encoding":{"x":{"field":"s","type":"quantitative","scale":{"domain":[-0.5,7.6],"nice":false,"zero":false},"axis":{"values":[0.45,1.6,2.75,3.7,4.8,5.85,6.78],"labelExpr":"datum.value==0.45?'0':datum.value==2.75?'14':datum.value==4.8?'28':datum.value==6.78?'42':''","tickOpacity":{"condition":{"test":"datum.value==1.6||datum.value==3.7||datum.value==5.85","value":1},"value":0},"title":null}}}},
      {"mark":{"type":"point","filled":true,"stroke":"black","strokeWidth":1.2,"size":58,"opacity":1},
       "encoding":{"x":{"field":"x","type":"quantitative","scale":{"domain":[-0.5,7.6],"nice":false,"zero":false},"axis":{"values":[0.45,1.6,2.75,3.7,4.8,5.85,6.78],"labelExpr":"datum.value==0.45?'0':datum.value==2.75?'14':datum.value==4.8?'28':datum.value==6.78?'42':''","tickOpacity":{"condition":{"test":"datum.value==1.6||datum.value==3.7||datum.value==5.85","value":1},"value":0},"title":null}},
        "shape":{"field":"g","type":"nominal","scale":{"domain":["+/+","-/-"],"range":["circle","square"]},"legend":null},
        "fill":{"field":"r","type":"nominal","scale":{"domain":["MDP","LPS"],"range":["white","#f01414"]},"legend":null}}}
     ]},
    {"width":200,"height":198,
     "transform":[{"filter":"datum.p=='IgG1'&&datum.r=='LPS'"}],
     "encoding":{"y":{"field":"v","type":"quantitative","scale":{"type":"log","domain":[10,100000000],"nice":false},"axis":{"values":[10,100,1000,10000,100000,1000000,10000000,100000000],"labelExpr":"'10' + ['⁰','¹','²','³','⁴','⁵','⁶','⁷','⁸'][round(log(datum.value)/LN10)]","title":null}}},
     "layer":[
      {"transform":[{"aggregate":[{"op":"mean","field":"v","as":"v"}],"groupby":["s"]}],
       "mark":{"type":"tick","orient":"horizontal","color":"black","thickness":2,"size":22,"opacity":1},
       "encoding":{"x":{"field":"s","type":"quantitative","scale":{"domain":[-0.5,7.6],"nice":false,"zero":false},"axis":{"values":[0.45,1.6,2.75,3.7,4.8,5.85,6.78],"labelExpr":"datum.value==0.45?'0':datum.value==2.75?'14':datum.value==4.8?'28':datum.value==6.78?'42':''","tickOpacity":{"condition":{"test":"datum.value==1.6||datum.value==3.7||datum.value==5.85","value":1},"value":0},"title":null}}}},
      {"mark":{"type":"point","filled":true,"stroke":"black","strokeWidth":1.2,"size":58,"opacity":1},
       "encoding":{"x":{"field":"x","type":"quantitative","scale":{"domain":[-0.5,7.6],"nice":false,"zero":false},"axis":{"values":[0.45,1.6,2.75,3.7,4.8,5.85,6.78],"labelExpr":"datum.value==0.45?'0':datum.value==2.75?'14':datum.value==4.8?'28':datum.value==6.78?'42':''","tickOpacity":{"condition":{"test":"datum.value==1.6||datum.value==3.7||datum.value==5.85","value":1},"value":0},"title":null}},
        "shape":{"field":"g","type":"nominal","scale":{"domain":["+/+","-/-"],"range":["circle","square"]},"legend":null},
        "fill":{"field":"r","type":"nominal","scale":{"domain":["MDP","LPS"],"range":["white","#f01414"]},"legend":null}}}
     ]},
    {"width":200,"height":198,
     "transform":[{"filter":"datum.p=='IgG2b'&&datum.r=='LPS'"}],
     "encoding":{"y":{"field":"v","type":"quantitative","scale":{"type":"log","domain":[10,100000],"nice":false},"axis":{"values":[10,100,1000,10000,100000],"labelExpr":"'10' + ['⁰','¹','²','³','⁴','⁵','⁶','⁷','⁸'][round(log(datum.value)/LN10)]","title":null}}},
     "layer":[
      {"transform":[{"aggregate":[{"op":"mean","field":"v","as":"v"}],"groupby":["s"]}],
       "mark":{"type":"tick","orient":"horizontal","color":"black","thickness":2,"size":22,"opacity":1},
       "encoding":{"x":{"field":"s","type":"quantitative","scale":{"domain":[-0.5,7.6],"nice":false,"zero":false},"axis":{"values":[0.45,1.6,2.75,3.7,4.8,5.85,6.78],"labelExpr":"datum.value==0.45?'0':datum.value==2.75?'14':datum.value==4.8?'28':datum.value==6.78?'42':''","tickOpacity":{"condition":{"test":"datum.value==1.6||datum.value==3.7||datum.value==5.85","value":1},"value":0},"title":null}}}},
      {"mark":{"type":"point","filled":true,"stroke":"black","strokeWidth":1.2,"size":58,"opacity":1},
       "encoding":{"x":{"field":"x","type":"quantitative","scale":{"domain":[-0.5,7.6],"nice":false,"zero":false},"axis":{"values":[0.45,1.6,2.75,3.7,4.8,5.85,6.78],"labelExpr":"datum.value==0.45?'0':datum.value==2.75?'14':datum.value==4.8?'28':datum.value==6.78?'42':''","tickOpacity":{"condition":{"test":"datum.value==1.6||datum.value==3.7||datum.value==5.85","value":1},"value":0},"title":null}},
        "shape":{"field":"g","type":"nominal","scale":{"domain":["+/+","-/-"],"range":["circle","square"]},"legend":null},
        "fill":{"field":"r","type":"nominal","scale":{"domain":["MDP","LPS"],"range":["white","#f01414"]},"legend":null}}}
     ]},
    {"width":200,"height":198,
     "transform":[{"filter":"datum.p=='IgG2c'&&datum.r=='LPS'"}],
     "encoding":{"y":{"field":"v","type":"quantitative","scale":{"type":"log","domain":[10,100000],"nice":false},"axis":{"values":[10,100,1000,10000,100000],"labelExpr":"'10' + ['⁰','¹','²','³','⁴','⁵','⁶','⁷','⁸'][round(log(datum.value)/LN10)]","title":null}}},
     "layer":[
      {"transform":[{"aggregate":[{"op":"mean","field":"v","as":"v"}],"groupby":["s"]}],
       "mark":{"type":"tick","orient":"horizontal","color":"black","thickness":2,"size":22,"opacity":1},
       "encoding":{"x":{"field":"s","type":"quantitative","scale":{"domain":[-0.5,7.6],"nice":false,"zero":false},"axis":{"values":[0.45,1.6,2.75,3.7,4.8,5.85,6.78],"labelExpr":"datum.value==0.45?'0':datum.value==2.75?'14':datum.value==4.8?'28':datum.value==6.78?'42':''","tickOpacity":{"condition":{"test":"datum.value==1.6||datum.value==3.7||datum.value==5.85","value":1},"value":0},"title":null}}}},
      {"mark":{"type":"point","filled":true,"stroke":"black","strokeWidth":1.2,"size":58,"opacity":1},
       "encoding":{"x":{"field":"x","type":"quantitative","scale":{"domain":[-0.5,7.6],"nice":false,"zero":false},"axis":{"values":[0.45,1.6,2.75,3.7,4.8,5.85,6.78],"labelExpr":"datum.value==0.45?'0':datum.value==2.75?'14':datum.value==4.8?'28':datum.value==6.78?'42':''","tickOpacity":{"condition":{"test":"datum.value==1.6||datum.value==3.7||datum.value==5.85","value":1},"value":0},"title":null}},
        "shape":{"field":"g","type":"nominal","scale":{"domain":["+/+","-/-"],"range":["circle","square"]},"legend":null},
        "fill":{"field":"r","type":"nominal","scale":{"domain":["MDP","LPS"],"range":["white","#f01414"]},"legend":null}}}
     ]}
   ]}
  ]
 }
]
}
